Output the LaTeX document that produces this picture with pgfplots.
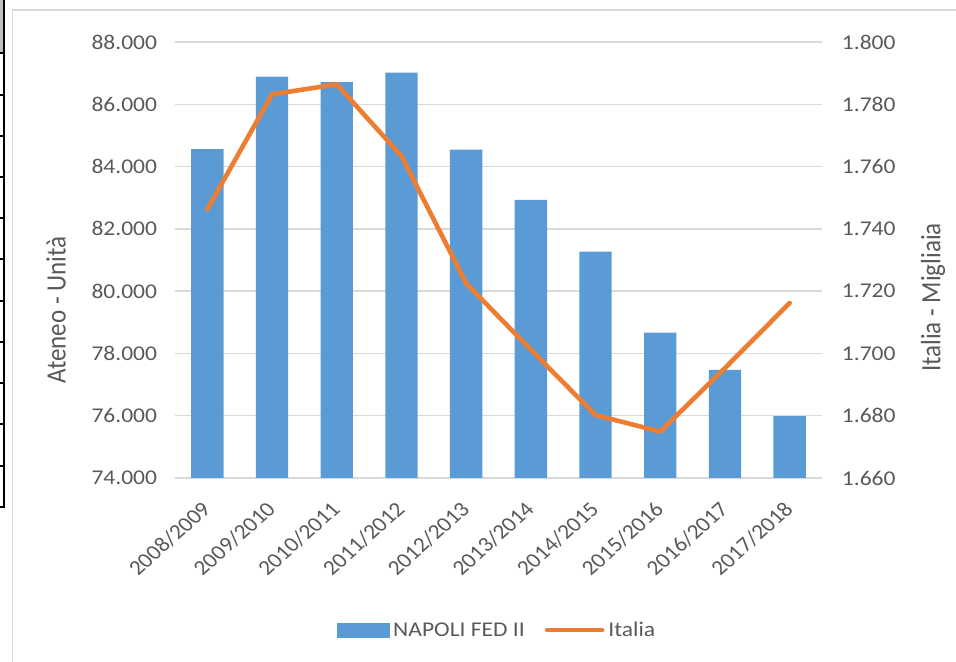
\documentclass[border=0pt]{standalone}
\usepackage{pgfplots}
\pgfplotsset{compat=1.18}
\usepackage{fontspec}
\setmainfont{Carlito}
\definecolor{barblue}{HTML}{5B9BD5}
\definecolor{lineorange}{HTML}{ED7D31}
\definecolor{gridgray}{HTML}{D9D9D9}
\definecolor{textgray}{HTML}{595959}
\newcommand{\chartfont}{\fontsize{21bp}{25bp}\selectfont}
\newcommand{\titlefont}{\fontsize{25bp}{30bp}\selectfont}
\newcommand{\sx}[1]{\scalebox{1.12}[1]{#1}}
\pgfplotsset{
  myaxis/.style={
    scale only axis, width=647bp, height=436bp,
    at={(175bp,184bp)}, anchor=south west,
    xmin=-0.5, xmax=9.5,
    major tick length=0pt,
    scaled y ticks=false,
    every tick label/.append style={font=\chartfont, text=textgray},
  }
}
\begin{document}
\begin{tikzpicture}
\useasboundingbox (0,0) rectangle (956bp,662bp);
% chart frame and sheet cell borders
\draw[gridgray, line width=1.3bp] (12.5bp,-20bp) rectangle (980bp,652bp);
\fill[black!25] (0bp,662bp) rectangle (3.5bp,609bp);
\draw[black, line width=2bp] (3.5bp,662bp) -- (3.5bp,155bp);
\foreach \yy in {53,95,136,177,218,259,301,342,383,424,466,507}{
  \draw[black, line width=1.5bp] (0bp,662bp-\yy bp) -- (4.5bp,662bp-\yy bp);
}
\begin{axis}[myaxis,
  ymin=74000, ymax=88000,
  ytick={74000,76000,78000,80000,82000,84000,86000,88000},
  yticklabels={74.000,76.000,78.000,80.000,82.000,84.000,86.000,88.000},
  xtick={0,...,9},
  xticklabels={2008/2009,2009/2010,2010/2011,2011/2012,2012/2013,2013/2014,2014/2015,2015/2016,2016/2017,2017/2018},
  axis line style={draw=none},
  ymajorgrids, grid style={color=gridgray, line width=1.3bp},
  yticklabel style={xshift=-14bp, xscale=1.12},
  xticklabel style={xshift=-7bp, yshift=-22bp, xscale=1.12, rotate=45, anchor=north east, inner sep=0pt},
  ylabel={Ateneo - Unità},
  every axis y label/.style={at={(axis description cs:-0.1839,0.385)}, anchor=center, font=\titlefont, text=textgray, xscale=1.12, rotate=90},
]
\addplot[ybar, bar width=0.5, bar shift=0pt, fill=barblue, draw=none]
  coordinates {(0,84560) (1,86890) (2,86710) (3,87020) (4,84540) (5,82930) (6,81270) (7,78670) (8,77470) (9,75990)};
\end{axis}
\begin{axis}[myaxis,
  ymin=1660, ymax=1800,
  axis y line*=right, axis x line=none,
  y axis line style={draw=none},
  ytick={1660,1680,1700,1720,1740,1760,1780,1800},
  yticklabels={1.660,1.680,1.700,1.720,1.740,1.760,1.780,1.800},
  yticklabel style={xshift=16bp, xscale=1.12},
  ylabel={Italia - Migliaia},
  every axis y label/.style={at={(axis description cs:1.1716,0.414)}, anchor=center, font=\titlefont, text=textgray, xscale=1.12, rotate=90},
  legend columns=2,
  legend style={at={(axis description cs:0.4977,-0.3486)}, anchor=center, draw=none, fill=none,
    font=\chartfont, text=textgray,
    /tikz/every odd column/.append style={column sep=2bp},
    /tikz/every even column/.append style={column sep=18bp}},
]
\addlegendimage{legend image code/.code={\fill[barblue] (0bp,-7bp) rectangle (52bp,7bp);}}
\addlegendentry{\sx{NAPOLI FED II}}
\addplot[lineorange, line width=4.6bp, line cap=round, line join=round,
  legend image code/.code={\draw[lineorange, line width=4.6bp, line cap=round] (0bp,0bp) -- (55bp,0bp);}]
  coordinates {(0,1746.3) (1,1783.2) (2,1786.4) (3,1763.4) (4,1722.5) (5,1701.2) (6,1680.2) (7,1674.9) (8,1695.3) (9,1716.2)};
\addlegendentry{\sx{Italia}}
\end{axis}
\end{tikzpicture}
\end{document}
